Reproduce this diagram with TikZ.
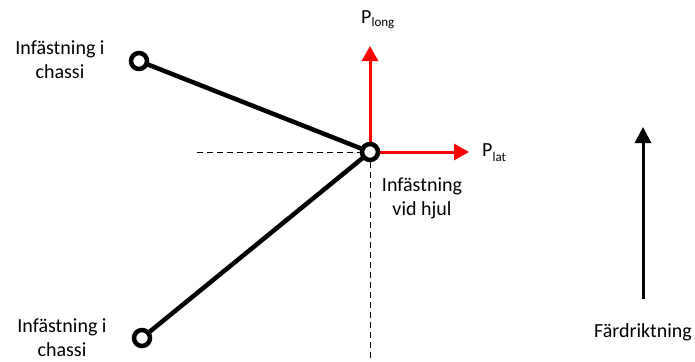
\documentclass[tikz,border=0pt]{standalone}
\usepackage{fontspec}
\setmainfont{Carlito}
\usetikzlibrary{arrows.meta}
\begin{document}
\begin{tikzpicture}[x=1pt,y=-1pt,
  joint/.style={circle,draw=black,fill=white,line width=4.5pt,minimum size=16pt,inner sep=0pt},
  arm/.style={line width=4.5pt},
  guide/.style={line width=0.8pt,dash pattern=on 6pt off 4pt},
  force/.style={red,line width=3pt,-{Triangle[length=15pt,width=16pt]}},
  lbl/.style={font=\fontsize{20}{24}\selectfont,align=center,inner sep=0pt}]
\useasboundingbox (0,0) rectangle (695,361);
\coordinate (gl) at (197,152);
\coordinate (gb) at (370,361);
\draw[guide] (gl) -- (370,152);
\draw[guide] (370,152) -- (gb);
\coordinate (w) at (370,152);
\draw[arm] (139,61) -- (w);
\draw[arm] (142,338) -- (w);
\node[joint] (top) at (139,61) {};
\node[joint] (bot) at (142,338) {};
\coordinate (up) at (370,46);
\coordinate (rt) at (469,152);
\draw[force] (w) -- (up);
\draw[force] (w) -- (rt);
\node[joint] (wheel) at (w) {};
\node[lbl] (plong) at (378,20) {P\textsubscript{\fontsize{13}{13}\selectfont long}};
\node[lbl,anchor=west] (plat) at (482,153) {P\raisebox{-5pt}{\fontsize{13}{13}\selectfont lat}};
\node[lbl] (whl) at (422,198) {Infästning\\vid hjul};
\node[lbl] (tl) at (60,60) {Infästning i\\chassi};
\node[lbl] (bl) at (62,338) {Infästning i\\chassi};
\coordinate (fa) at (643,299);
\coordinate (fb) at (643,127);
\draw[line width=3pt,-{Triangle[length=16pt,width=16pt]}] (fa) -- (fb);
\node[lbl] (fd) at (643,332) {Färdriktning};
\end{tikzpicture}
\end{document}
